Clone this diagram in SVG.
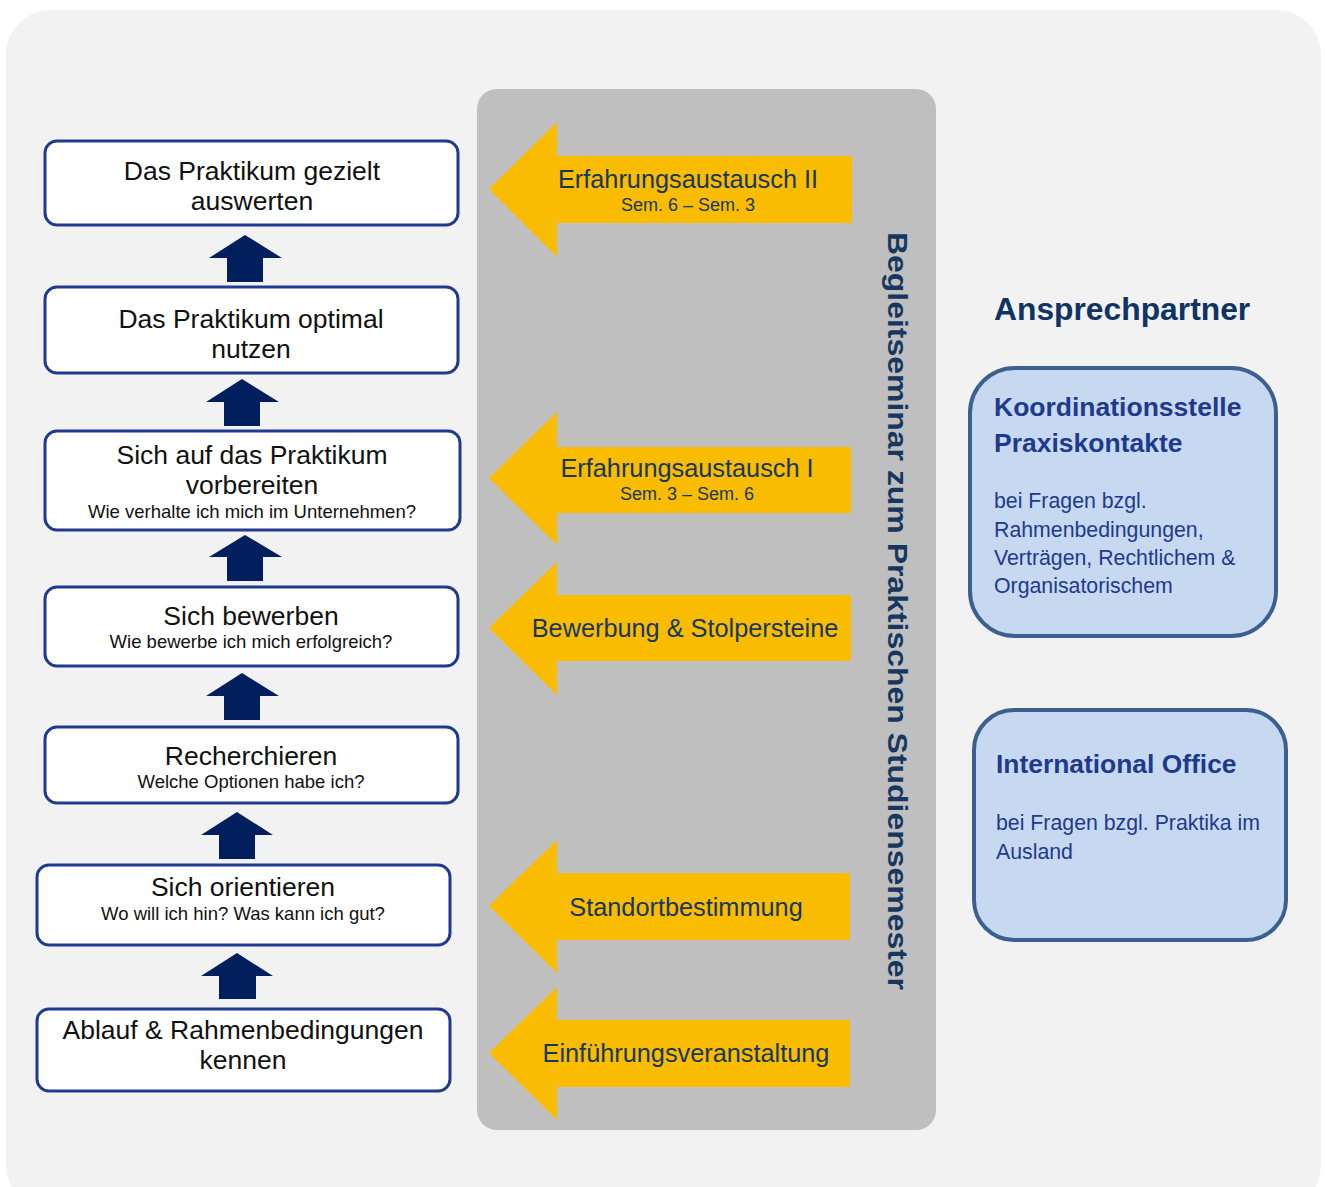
<svg xmlns="http://www.w3.org/2000/svg" width="1327" height="1187" viewBox="0 0 1327 1187">
<style>
.step rect{fill:#ffffff;stroke:#1f3a8f;stroke-width:3}
.up{fill:#001f5c}
.ya{fill:#f9bc00}
.t{font-family:"Liberation Sans",Arial,sans-serif;text-anchor:middle;fill:#111}
.m{font-size:26.5px}
.s{font-size:18.5px}
.yt{font-family:"Liberation Sans",Arial,sans-serif;text-anchor:middle;fill:#17375e}
.card rect{fill:#c6d9f0;stroke:#3b5f8e;stroke-width:4}
.ct{font-family:"Liberation Sans",Arial,sans-serif;fill:#1f3a8c}
</style>
<rect x="6" y="10" width="1315" height="1200" rx="45" fill="#f2f2f2"/>
<rect x="477" y="89" width="459" height="1041" rx="20" fill="#bfbfbf"/>

<g id="step7" class="step"><rect x="45" y="141" width="413" height="84" rx="12"/>
<text class="t m" x="252" y="180">Das Praktikum gezielt</text><text class="t m" x="252" y="210">auswerten</text></g>
<g id="step6" class="step"><rect x="45" y="287" width="413" height="86" rx="12"/>
<text class="t m" x="251" y="328">Das Praktikum optimal</text><text class="t m" x="251" y="358">nutzen</text></g>
<g id="step5" class="step"><rect x="45" y="431" width="415" height="99" rx="12"/>
<text class="t m" x="252" y="464">Sich auf das Praktikum</text><text class="t m" x="252" y="494">vorbereiten</text><text class="t s" x="252" y="518">Wie verhalte ich mich im Unternehmen?</text></g>
<g id="step4" class="step"><rect x="45" y="587" width="413" height="79" rx="12"/>
<text class="t m" x="251" y="625">Sich bewerben</text><text class="t s" x="251" y="648">Wie bewerbe ich mich erfolgreich?</text></g>
<g id="step3" class="step"><rect x="45" y="727" width="413" height="76" rx="12"/>
<text class="t m" x="251" y="765">Recherchieren</text><text class="t s" x="251" y="788">Welche Optionen habe ich?</text></g>
<g id="step2" class="step"><rect x="37" y="865" width="413" height="80" rx="12"/>
<text class="t m" x="243" y="896">Sich orientieren</text><text class="t s" x="243" y="920">Wo will ich hin? Was kann ich gut?</text></g>
<g id="step1" class="step"><rect x="37" y="1009" width="413" height="82" rx="12"/>
<text class="t m" x="243" y="1039">Ablauf &amp; Rahmenbedingungen</text><text class="t m" x="243" y="1069">kennen</text></g>

<g id="connectors">
<polygon class="up" points="245,235 282,258 263,258 263,282 227,282 227,258 209,258"/>
<polygon class="up" points="242,379 279,402 260,402 260,426 224,426 224,402 206,402"/>
<polygon class="up" points="245,535 282,557 263,557 263,581 227,581 227,557 209,557"/>
<polygon class="up" points="242,673 279,696 260,696 260,720 224,720 224,696 206,696"/>
<polygon class="up" points="237,812 273,835 255,835 255,859 219,859 219,835 201,835"/>
<polygon class="up" points="237,953 273,976 256,976 256,999 219,999 219,976 201,976"/>
</g>

<g id="seminar-ea2"><polygon class="ya" points="489,189 557,122 557,156 852,156 852,223 557,223 557,257"/>
<text class="yt" x="688" y="188" font-size="25.3">Erfahrungsaustausch II</text><text class="yt" x="688" y="211" font-size="18">Sem. 6 – Sem. 3</text></g>
<g id="seminar-ea1"><polygon class="ya" points="489,478 557,412 557,447 851,447 851,513 557,513 557,545"/>
<text class="yt" x="687" y="477" font-size="25.3">Erfahrungsaustausch I</text><text class="yt" x="687" y="500" font-size="18">Sem. 3 – Sem. 6</text></g>
<g id="seminar-bew"><polygon class="ya" points="489,628 557,562 557,595 851,595 851,661 557,661 557,695"/>
<text class="yt" x="685" y="637" font-size="25.3">Bewerbung &amp; Stolpersteine</text></g>
<g id="seminar-stand"><polygon class="ya" points="489,906 557,840 557,873 850,873 850,940 557,940 557,973"/>
<text class="yt" x="686" y="916" font-size="25.3">Standortbestimmung</text></g>
<g id="seminar-einf"><polygon class="ya" points="489,1053 557,987 557,1020 850,1020 850,1087 557,1087 557,1120"/>
<text class="yt" x="686" y="1062" font-size="25.3">Einführungsveranstaltung</text></g>

<text x="888" y="611" transform="rotate(90 888 611)" font-family="Liberation Sans,Arial,sans-serif" font-weight="bold" font-size="28" fill="#17375e" text-anchor="middle" textLength="758" lengthAdjust="spacingAndGlyphs">Begleitseminar zum Praktischen Studiensemester</text>

<text x="994" y="320" font-family="Liberation Sans,Arial,sans-serif" font-weight="bold" font-size="31.8" fill="#0f3463">Ansprechpartner</text>

<g id="koordination" class="card"><rect x="970" y="368" width="306" height="268" rx="45"/>
<text class="ct" x="994" y="416" font-size="26.5" font-weight="bold">Koordinationsstelle</text>
<text class="ct" x="994" y="452" font-size="26.5" font-weight="bold">Praxiskontakte</text>
<text class="ct" x="994" y="508" font-size="21.3">bei Fragen bzgl.</text>
<text class="ct" x="994" y="537" font-size="21.3">Rahmenbedingungen,</text>
<text class="ct" x="994" y="565" font-size="21.3">Verträgen, Rechtlichem &amp;</text>
<text class="ct" x="994" y="593" font-size="21.3">Organisatorischem</text></g>
<g id="international" class="card"><rect x="974" y="710" width="312" height="230" rx="40"/>
<text class="ct" x="996" y="773" font-size="26.4" font-weight="bold">International Office</text>
<text class="ct" x="996" y="830" font-size="21.3">bei Fragen bzgl. Praktika im</text>
<text class="ct" x="996" y="859" font-size="21.3">Ausland</text></g>
</svg>
